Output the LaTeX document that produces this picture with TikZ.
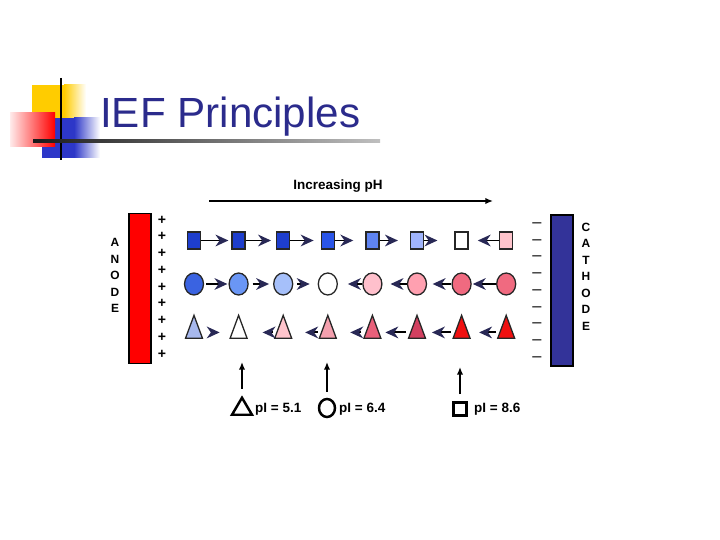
\documentclass[tikz,border=0pt]{standalone}
\usepackage{fontspec}
\setmainfont{Liberation Sans}
\usetikzlibrary{arrows.meta,shapes.geometric}

\definecolor{titleblue}{RGB}{43,43,140}
\definecolor{logoyellow}{RGB}{255,204,0}
\definecolor{logoblue}{RGB}{45,55,200}
\definecolor{cathodeblue}{RGB}{51,51,153}
\definecolor{headnavy}{RGB}{40,40,85}
% squares
\definecolor{sqA}{RGB}{30,62,205}
\definecolor{sqB}{RGB}{42,85,232}
\definecolor{sqC}{RGB}{95,132,242}
\definecolor{sqD}{RGB}{160,180,252}
\definecolor{sqE}{RGB}{255,196,204}
% circles
\definecolor{ciA}{RGB}{58,99,225}
\definecolor{ciB}{RGB}{106,150,245}
\definecolor{ciC}{RGB}{166,192,250}
\definecolor{ciD}{RGB}{255,192,204}
\definecolor{ciE}{RGB}{255,160,176}
\definecolor{ciF}{RGB}{240,106,128}
% triangles
\definecolor{trA}{RGB}{167,184,238}
\definecolor{trB}{RGB}{255,196,204}
\definecolor{trC}{RGB}{244,160,174}
\definecolor{trD}{RGB}{232,96,122}
\definecolor{trE}{RGB}{210,64,96}
\definecolor{trF}{RGB}{240,16,16}

\begin{document}
\begin{tikzpicture}[x=0.03cm,y=-0.03cm,
    sq/.style={draw=black!85, line width=1.1pt, minimum width=0.39cm, minimum height=0.51cm, inner sep=0pt},
    blob/.style={ellipse, draw=black!85, line width=1.1pt, minimum width=0.57cm, minimum height=0.66cm, inner sep=0pt},
    tri/.style={isosceles triangle, isosceles triangle stretches, shape border rotate=90, draw=black!85, line width=1.1pt, minimum width=0.51cm, minimum height=0.69cm, inner sep=0pt},
    arr/.style={line width=1.7pt, -{Stealth[length=11pt,width=10pt,inset=3.5pt,color=headnavy]}},
    uparr/.style={line width=1.5pt, -{Latex[length=6.5pt,width=5.5pt]}},
    lbl/.style={font=\bfseries\fontsize{11.5}{13}\selectfont, inner sep=0pt},
    sign/.style={font=\bfseries\fontsize{12}{13}\selectfont, inner sep=0pt},
    letters/.style={font=\bfseries\fontsize{10.2}{14.1}\selectfont, align=center, inner sep=0pt}]
\useasboundingbox (0,0) rectangle (720,540);

% logo
\fill[logoyellow] (32,85) rectangle (64,120);
\shade[left color=logoyellow, right color=white] (64,85) rectangle (86,120);
\fill[logoblue] (42,118) rectangle (74,158);
\shade[left color=logoblue, right color=white] (74,118) rectangle (100,158);
\shade[left color=red!8, right color=red] (10,113) rectangle (55,147);
\draw[line width=1.7pt] (61,78) -- (61,160);
\shade[left color=black!90, right color=black!25] (33,140) rectangle (380,142.5);
\node[anchor=base west, font=\fontsize{36}{40}\selectfont, text=titleblue, inner sep=0pt] (title) at (100,128) {IEF Principles};

% pH gradient
\node[lbl] (phlabel) at (338,186) {Increasing pH};
\coordinate (phL) at (209,201);
\coordinate (phR) at (493,201);
\draw[uparr] (phL) -- (phR);

% electrodes
\node[draw, line width=1.2pt, fill=red, minimum width=0.66cm, minimum height=4.5cm] (anode) at (140,288.5) {};
\node[draw, line width=1.2pt, fill=cathodeblue, minimum width=0.66cm, minimum height=4.53cm] (cathode) at (562,290.5) {};
\node[letters] (anodetxt) at (115,275.5) {A\\N\\O\\D\\E};
\node[letters] (cathodetxt) at (586,276.5) {C\\A\\T\\H\\O\\D\\E};
\foreach \k in {0,...,8} {
    \node[sign] (plus\k) at (162,{220+16.75*\k}) {+};
    \node[sign, font=\fontsize{14}{14}\selectfont] (minus\k) at (537,{225+16.75*\k}) {--};
}

% proteins
\foreach \i/\c in {1/sqA,2/sqA,3/sqA,4/sqB,5/sqC,6/sqD,7/white,8/sqE}
    \node[sq, fill=\c] (s\i) at ({194+44.6*(\i-1)},240.5) {};
\foreach \i/\c in {1/ciA,2/ciB,3/ciC,4/white,5/ciD,6/ciE,7/ciF,8/ciF}
    \node[blob, fill=\c] (c\i) at ({194+44.6*(\i-1)},284) {};
\foreach \i/\c in {1/trA,2/white,3/trB,4/trC,5/trD,6/trE,7/trF,8/trF}
    \node[tri, fill=\c, anchor=lower side] (t\i) at ({194+44.6*(\i-1)},339) {};

% migration
\foreach \a/\b/\s/\e in {1/2/0pt/2.6pt,2/3/0pt/4.3pt,3/4/0pt/6pt,4/5/0pt/10.2pt,5/6/0pt/10.2pt,6/7/0pt/14.5pt,8/7/0pt/7.7pt}
    \draw[arr, shorten <=\s, shorten >=\e] (s\a) -- (s\b);
\foreach \a/\b/\s/\e in {1/2/1.7pt/0.9pt,2/3/3.4pt/3.4pt,3/4/3.4pt/6.8pt,5/4/0pt/8.5pt,6/5/0pt/6.8pt,7/6/0pt/4.7pt,8/7/0pt/0.9pt}
    \draw[arr, shorten <=\s, shorten >=\e] (c\a) -- (c\b);
\foreach \a/\b/\s/\e in {1/2/10.2pt/10.2pt,3/2/2.6pt/14.5pt,4/3/2.6pt/12.8pt,5/4/3.4pt/13.2pt,6/5/3.4pt/5.1pt,7/6/3.4pt/6.8pt,8/7/2.6pt/9pt}
    \draw[arr, shorten <=\s, shorten >=\e] (t\a) -- (t\b);

% isoelectric points
\node[isosceles triangle, isosceles triangle stretches, shape border rotate=90, draw, line width=2.1pt, fill=white, minimum width=0.6cm, minimum height=0.51cm, inner sep=0pt, anchor=lower side] (k1) at (242,416) {};
\node[ellipse, draw, line width=2.1pt, fill=white, minimum width=0.48cm, minimum height=0.54cm, inner sep=0pt] (k2) at (327,408) {};
\node[rectangle, draw, line width=2.1pt, fill=white, minimum width=0.39cm, minimum height=0.39cm, inner sep=0pt] (k3) at (460,409) {};
\coordinate (k1top) at (242,362);
\coordinate (k2top) at (327,362);
\coordinate (k3top) at (460,367);
\draw[uparr, shorten <=5pt] (k1.apex) -- (k1top);
\draw[uparr, shorten <=5pt] (k2) -- (k2top);
\draw[uparr, shorten <=6pt] (k3) -- (k3top);
\node[lbl, anchor=base west] (pi1) at (255,413) {pI = 5.1};
\node[lbl, anchor=base west] (pi2) at (339,413) {pI = 6.4};
\node[lbl, anchor=base west] (pi3) at (474,413) {pI = 8.6};
\end{tikzpicture}
\end{document}
